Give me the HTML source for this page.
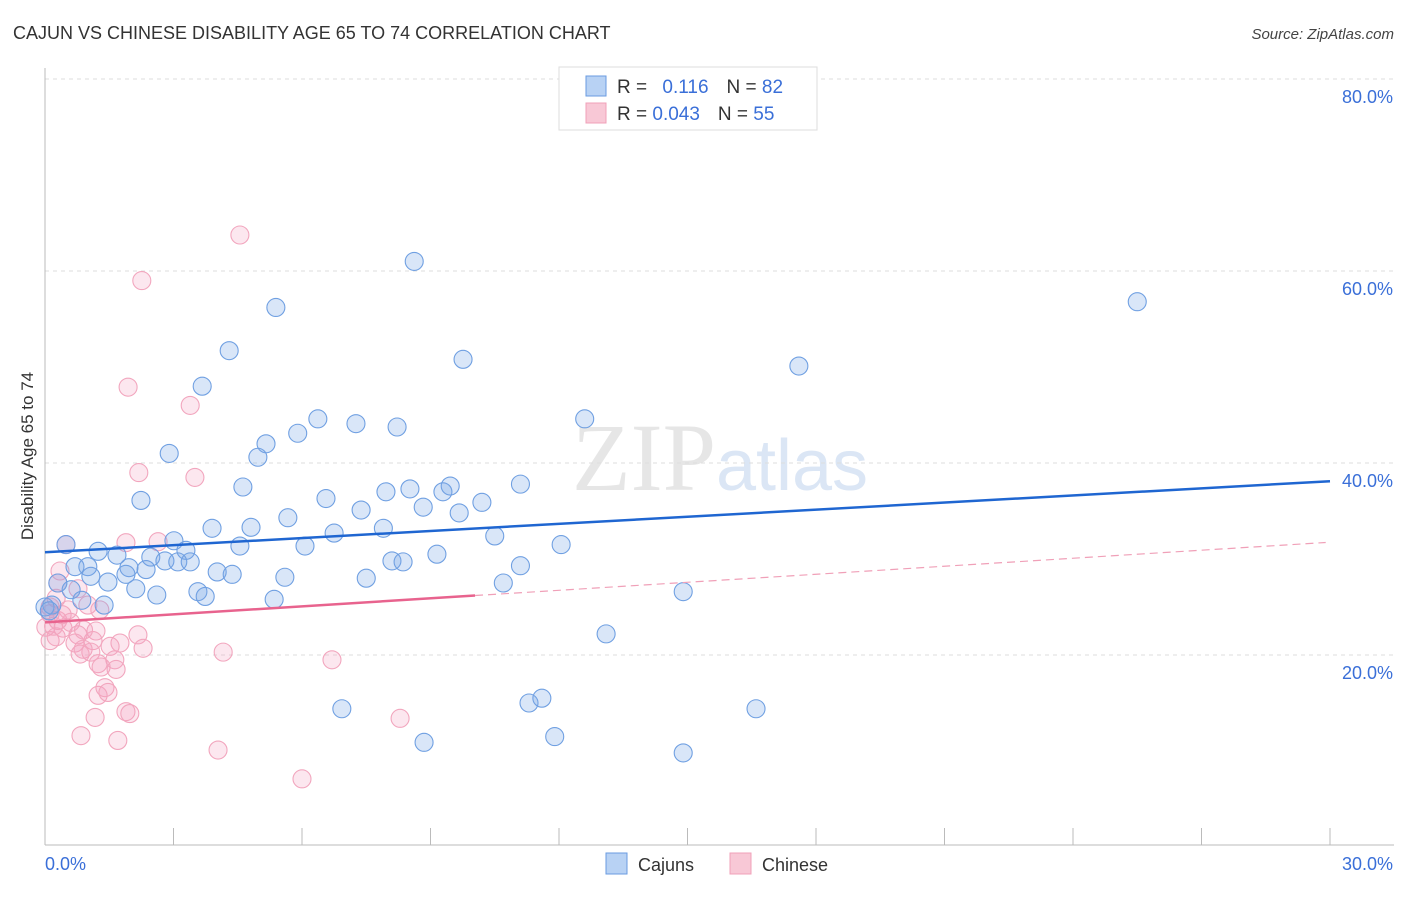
<!DOCTYPE html>
<html><head><meta charset="utf-8"><style>
body{margin:0;background:#fff;font-family:"Liberation Sans",sans-serif}
</style></head><body>
<svg width="1406" height="892" xmlns="http://www.w3.org/2000/svg" font-family="Liberation Sans, sans-serif">
<text x="13" y="39" font-size="18" fill="#333">CAJUN VS CHINESE DISABILITY AGE 65 TO 74 CORRELATION CHART</text>
<text x="1394" y="39" font-size="15" fill="#444" text-anchor="end" font-style="italic">Source: ZipAtlas.com</text>
<text x="720" y="490" font-size="96" fill="#e6e6e6" text-anchor="middle" font-family="Liberation Serif, serif">ZIP<tspan fill="#dbe6f5" font-family="Liberation Sans, sans-serif" font-size="72">atlas</tspan></text>
<g id="grid"></g>
<line x1="45" y1="68" x2="45" y2="845" stroke="#bbb"/>
<line x1="45" y1="845" x2="1394" y2="845" stroke="#bbb"/>
<text transform="translate(33,456) rotate(-90)" font-size="17" fill="#333" text-anchor="middle">Disability Age 65 to 74</text>
<text x="45" y="870" font-size="18" fill="#3a6fd8">0.0%</text>
<text x="1393" y="870" font-size="18" fill="#3a6fd8" text-anchor="end">30.0%</text>
<g id="pts"></g>
<g id="lines"></g>
<g>
<rect x="559" y="67" width="258" height="63" fill="#fff" stroke="#ddd"/>
<rect x="586" y="76" width="20" height="20" fill="#b8d2f4" stroke="#6a9be0"/>
<rect x="586" y="103" width="20" height="20" fill="#f8c8d6" stroke="#f0a0b8"/>
<text x="617" y="93" font-size="19" fill="#333">R = <tspan fill="#3a6fd8" dx="10">0.116</tspan><tspan dx="18" fill="#333">N = </tspan><tspan fill="#3a6fd8">82</tspan></text>
<text x="617" y="120" font-size="19" fill="#333">R = <tspan fill="#3a6fd8">0.043</tspan><tspan dx="18" fill="#333">N = </tspan><tspan fill="#3a6fd8">55</tspan></text>
</g>
<g>
<rect x="606" y="853" width="21" height="21" fill="#b8d2f4" stroke="#6a9be0"/>
<text x="638" y="871" font-size="18" fill="#333">Cajuns</text>
<rect x="730" y="853" width="21" height="21" fill="#f8c8d6" stroke="#f0a0b8"/>
<text x="762" y="871" font-size="18" fill="#333">Chinese</text>
</g>
</svg>
<script>
const yTicks=[20,40,60,80];
const xTicks=[0,3,6,9,12,15,18,21,24,27,30];
const cajunX=[8.62,5.39,25.5,4.3,9.76,3.67,17.6,6.37,5.9,7.26,8.22,12.6,5.16,4.97,2.9,4.62,2.24,6.56,7.96,8.52,9.29,9.46,11.1,10.2,7.38,8.83,9.67,5.67,3.9,4.81,7.9,6.75,10.5,3.01,3.29,4.55,6.07,12.05,1.24,1.68,2.47,2.8,3.1,3.39,8.1,8.36,9.15,0.7,1.0,1.96,2.36,1.89,1.07,11.1,4.02,4.37,5.6,7.5,10.7,0.3,1.47,2.12,0.61,2.61,3.57,3.74,14.9,0.86,5.35,1.38,0.16,13.1,6.93,11.3,11.6,16.6,11.9,8.85,14.9,0.49,0,0.1];
const cajunY=[61.0,56.2,56.8,51.7,50.8,48.0,50.1,44.6,43.1,44.1,43.75,44.6,42.0,40.6,41.0,37.5,36.1,36.3,37.0,37.3,37.0,37.6,37.8,35.9,35.1,35.4,34.8,34.3,33.2,33.3,33.2,32.7,32.4,31.9,30.9,31.35,31.35,31.5,30.8,30.4,30.2,29.8,29.7,29.7,29.8,29.7,30.5,29.2,29.2,29.1,28.9,28.4,28.2,29.3,28.65,28.4,28.1,28.0,27.5,27.5,27.6,26.9,26.8,26.25,26.6,26.1,26.6,25.7,25.8,25.2,25.2,22.2,14.4,15.0,15.5,14.4,11.5,10.9,9.8,31.5,25.0,24.6];
const chineseX=[4.55,2.26,1.94,3.39,2.19,3.5,0.49,1.89,2.64,0.35,0.3,0.77,0.26,1.0,0.54,0.12,0.3,0.02,0.42,1.19,0.77,2.17,0.12,0.26,1.12,0.7,1.75,2.29,0.89,1.52,1.07,4.16,0.82,6.7,1.63,1.24,1.31,1.66,1.4,1.24,1.47,1.89,1.98,1.17,8.29,0.84,1.7,4.04,6.0,0.12,0.4,1.28,0.2,0.6,0.9];
const chineseY=[63.75,59.0,47.9,46.0,39.0,38.5,31.5,31.7,31.8,28.75,27.5,26.9,25.9,25.2,24.7,24.3,23.6,22.9,22.8,22.5,22.1,22.1,21.5,21.9,21.5,21.25,21.25,20.7,20.6,20.9,20.3,20.3,20.1,19.5,19.5,19.1,18.75,18.5,16.6,15.8,16.1,14.1,13.9,13.5,13.4,11.6,11.1,10.1,7.1,25.0,24.2,24.7,23.0,23.4,22.6];
const cajunTrend=[30.7,38.1];
const chineseTrend=[23.4,31.75];
const chineseSolidEnd=10.04;
const NS="http://www.w3.org/2000/svg";
const sx=v=>45+v/30*1285, sy=v=>847-v*9.6;
function mk(t,a,p){const e=document.createElementNS(NS,t);for(const k in a)e.setAttribute(k,a[k]);p.appendChild(e);return e;}
const grid=document.getElementById('grid');
yTicks.forEach(t=>{
 const l=mk('line',{x1:45,x2:1394,y1:sy(t),y2:sy(t),stroke:'#ddd','stroke-dasharray':'4,4'},grid);
 
 
 const tx=mk('text',{x:1393,y:sy(t)+24,'font-size':18,fill:'#3a6fd8','text-anchor':'end'},grid);
 tx.textContent=t.toFixed(1)+'%';
 
 
});
xTicks.forEach(t=>{
 const l=mk('line',{x1:sx(t),x2:sx(t),y1:828,y2:845,stroke:'#bbb'},grid);
 
 
});
const pts=document.getElementById('pts');
chineseX.forEach((x,i)=>{
 const c=mk('circle',{cx:sx(x),cy:sy(chineseY[i]),r:9,fill:'rgba(245,160,190,0.25)',stroke:'#f2a6be','stroke-width':1.1},pts);
 
 
});
cajunX.forEach((x,i)=>{
 const c=mk('circle',{cx:sx(x),cy:sy(cajunY[i]),r:9,fill:'rgba(120,165,230,0.28)',stroke:'#70a0e2','stroke-width':1.1},pts);
 
 
});
const lg=document.getElementById('lines');
const f=x=>chineseTrend[0]+(chineseTrend[1]-chineseTrend[0])*x/30;
let a=mk('line',{x1:sx(0),y1:sy(cajunTrend[0]),x2:sx(30),y2:sy(cajunTrend[1]),stroke:'#1f66d1','stroke-width':2.5},lg);


a=mk('line',{x1:sx(0),y1:sy(f(0)),x2:sx(chineseSolidEnd),y2:sy(f(chineseSolidEnd)),stroke:'#e8638e','stroke-width':2.5},lg);


a=mk('line',{x1:sx(chineseSolidEnd),y1:sy(f(chineseSolidEnd)),x2:sx(29.9),y2:sy(f(29.9)),stroke:'#f0a0b8','stroke-width':1.2,'stroke-dasharray':'8,5'},lg);


</script>
</body></html>
